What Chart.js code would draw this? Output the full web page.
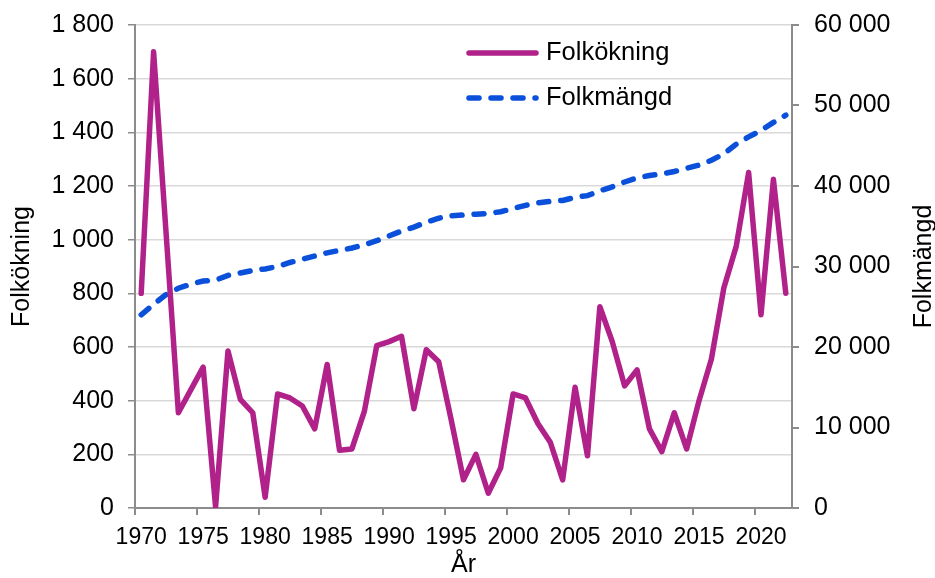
<!DOCTYPE html>
<html>
<head>
<meta charset="utf-8">
<script src="https://cdn.jsdelivr.net/npm/chart.js@4.4.0/dist/chart.umd.min.js"></script>
<style>
  html, body { margin: 0; padding: 0; background: #fff; }
  #wrap { width: 935px; height: 578px; }
</style>
</head>
<body>
<div id="wrap"><canvas id="chart1"></canvas></div>
<script>
const years = [
  '1970','1971','1972','1973','1974','1975','1976','1977','1978','1979',
  '1980','1981','1982','1983','1984','1985','1986','1987','1988','1989',
  '1990','1991','1992','1993','1994','1995','1996','1997','1998','1999',
  '2000','2001','2002','2003','2004','2005','2006','2007','2008','2009',
  '2010','2011','2012','2013','2014','2015','2016','2017','2018','2019',
  '2020','2021','2022'
];
const folkokning = [
  800, 1700, 1030, 355, 440, 525, 5, 585, 405, 355,
  40, 425, 410, 380, 295, 535, 215, 220, 360, 605,
  620, 640, 370, 590, 545, 330, 105, 200, 55, 150,
  425, 410, 315, 245, 105, 450, 195, 750, 620, 455,
  515, 295, 210, 355, 220, 400, 555, 820, 975, 1250,
  720, 1225, 800
];
const folkmangd = [
  24000, 25300, 26500, 27300, 27800, 28200, 28300, 28900, 29200, 29500,
  29700, 30000, 30500, 30900, 31300, 31700, 32000, 32300, 32700, 33200,
  33800, 34400, 34900, 35500, 36000, 36300, 36400, 36500, 36600, 36800,
  37200, 37600, 37900, 38100, 38200, 38600, 38800, 39400, 39900, 40500,
  41000, 41300, 41500, 41800, 42200, 42600, 43200, 44000, 45200, 46100,
  46900, 47900, 48800
];

const purple = '#B0228A';
const blue = '#0A50DA';
const axisGray = '#8C8C8C';
const gridGray = '#D9D9D9';
const fontFam = '"Liberation Sans", Arial, sans-serif';

// "1 800", "60 000"
const spaced = v => String(v).replace(/\B(?=(\d{3})+(?!\d))/g, ' ');

// legend inside the plot + right title reading upwards, like the original
const extras = {
  id: 'extras',
  afterDatasetsDraw(chart) {
    const ctx = chart.ctx;
    const rows = [53, 98];
    ctx.save();
    chart.data.datasets.forEach((ds, i) => {
      const y = rows[i];
      ctx.beginPath();
      ctx.strokeStyle = ds.borderColor;
      ctx.lineWidth = ds.borderWidth;
      ctx.lineCap = 'round';
      ctx.setLineDash(ds.borderDash || []);
      ctx.moveTo(469, y);
      ctx.lineTo(536, y);
      ctx.stroke();
      ctx.setLineDash([]);
      ctx.fillStyle = '#000';
      ctx.font = '25.5px ' + fontFam;
      ctx.textBaseline = 'middle';
      ctx.textAlign = 'left';
      ctx.fillText(ds.label, 546, y);
    });
    ctx.font = '25px ' + fontFam;
    ctx.translate(924, (chart.chartArea.top + chart.chartArea.bottom) / 2);
    ctx.rotate(-Math.PI / 2);
    ctx.textAlign = 'center';
    ctx.textBaseline = 'middle';
    ctx.fillText('Folkmängd', 0, 0);
    ctx.restore();
  }
};

// fixed axis box sizes so the plot area sits where the original one does
const fixY = w => s => { s.width = w; s.paddingTop = 0; s.paddingBottom = 0; };

const cfg1 = {
  type: 'line',
  data: {
    labels: years,
    datasets: [
      { label: 'Folkökning', data: folkokning, yAxisID: 'y', borderColor: purple, backgroundColor: purple,
        borderWidth: 5.5, pointRadius: 0, tension: 0, borderJoinStyle: 'round', borderCapStyle: 'round' },
      { label: 'Folkmängd', data: folkmangd, yAxisID: 'y1', borderColor: blue, backgroundColor: blue,
        borderWidth: 5.5, borderDash: [10, 12], borderCapStyle: 'round', pointRadius: 0, tension: 0 }
    ]
  },
  options: {
    responsive: true,
    maintainAspectRatio: false,
    animation: false,
    layout: { padding: { top: 25, left: 0, right: 0, bottom: 0 } },
    plugins: { legend: { display: false }, tooltip: { enabled: false } },
    scales: {
      x: {
        type: 'category',
        offset: true,
        afterFit: s => { s.height = 70; },
        grid: {
          offset: true, drawOnChartArea: false, tickLength: 7, lineWidth: 2,
          tickColor: c => (c.index % 5 === 0 && c.index <= 50) ? axisGray : 'rgba(0,0,0,0)'
        },
        border: { color: axisGray, width: 2 },
        ticks: {
          autoSkip: false, maxRotation: 0, padding: 9, color: '#000',
          font: { family: fontFam, size: 23 },
          callback: function (v, i) { const l = this.getLabelForValue(v); return (+l % 5 === 0) ? l : ''; }
        },
        title: { display: true, text: 'År', color: '#000', font: { family: fontFam, size: 25, lineHeight: 1 }, padding: { top: 0, bottom: 0 } }
      },
      y: {
        type: 'linear', position: 'left', min: 0, max: 1800,
        afterFit: fixY(135),
        grid: { color: gridGray, lineWidth: 1.5, tickColor: axisGray, tickLength: 7 },
        border: { color: axisGray, width: 2 },
        ticks: { stepSize: 200, padding: 14, color: '#000', font: { family: fontFam, size: 25 }, callback: v => spaced(v) },
        title: { display: true, text: 'Folkökning', color: '#000', font: { family: fontFam, size: 25, lineHeight: 1 }, padding: { top: 10, bottom: 0 } }
      },
      y1: {
        type: 'linear', position: 'right', min: 0, max: 60000,
        afterFit: fixY(143),
        grid: { drawOnChartArea: false, tickColor: axisGray, tickLength: 7, lineWidth: 2 },
        border: { color: axisGray, width: 2 },
        ticks: { stepSize: 10000, padding: 15, color: '#000', font: { family: fontFam, size: 25 }, callback: v => spaced(v) }
      }
    }
  },
  plugins: [extras]
};

const chart1 = new Chart(document.getElementById('chart1').getContext('2d'), cfg1);
</script>
</body>
</html>
